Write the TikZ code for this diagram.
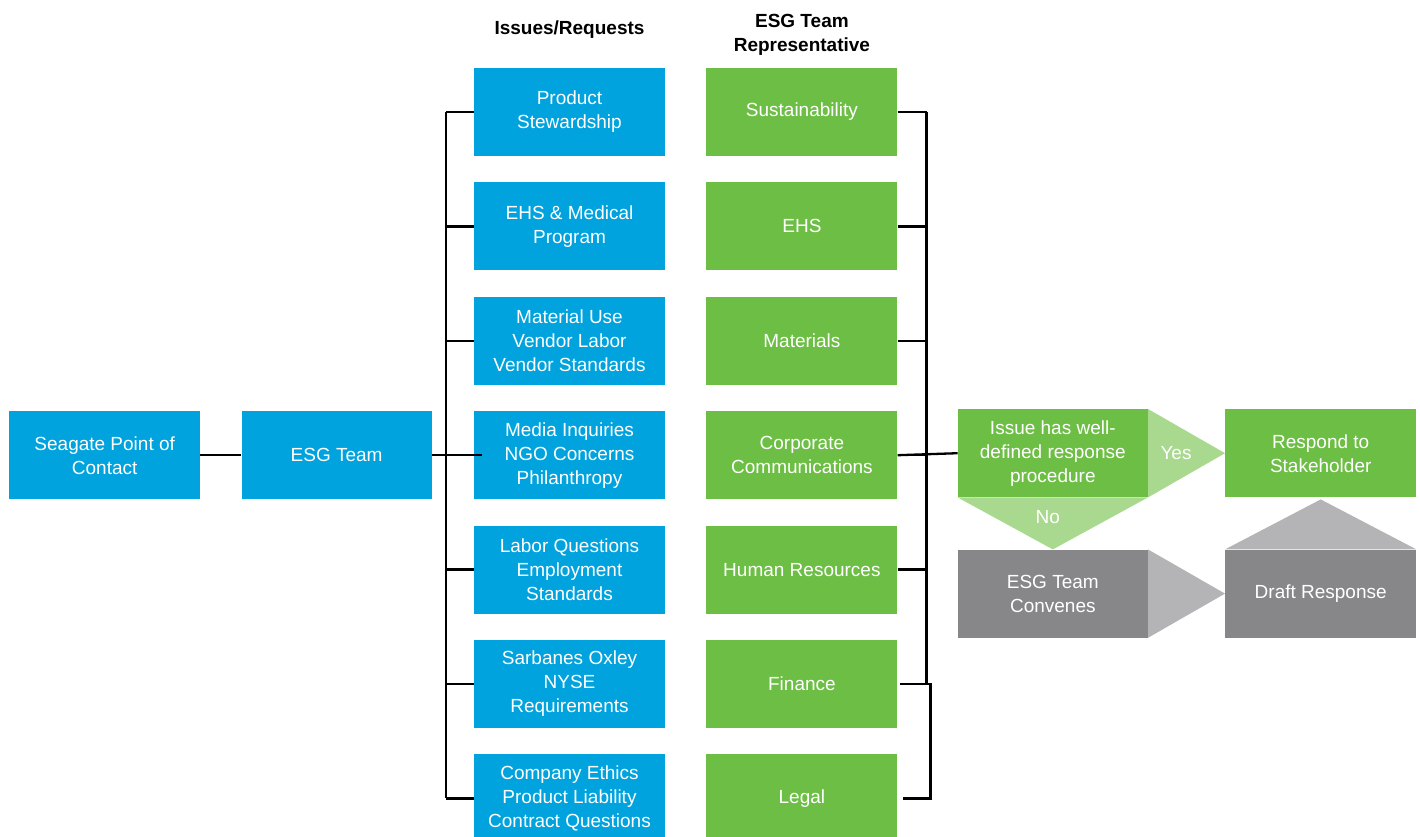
\documentclass[tikz,border=0pt]{standalone}
\usepackage{fontspec}
\setmainfont{Liberation Sans}
\usetikzlibrary{positioning,calc}
\definecolor{SgBlue}{HTML}{00A3DD}
\definecolor{SgGreen}{HTML}{6DBE45}
\definecolor{SgLightGreen}{HTML}{A9D88F}
\definecolor{SgGray}{HTML}{87878A}
\definecolor{SgLightGray}{HTML}{B4B4B6}

\begin{document}
\begin{tikzpicture}[x=1pt,y=1pt,font=\fontsize{19}{24}\selectfont,node distance=26pt and 41pt,
  box/.style={minimum width=191pt,minimum height=88pt,align=center,text=white,inner sep=2pt},
  issue/.style={box,fill=SgBlue},
  rep/.style={box,fill=SgGreen},
  grey/.style={box,fill=SgGray},
  head/.style={font=\fontsize{19}{24}\selectfont\bfseries,align=center},
  link/.style={line width=2.3pt}]
  \useasboundingbox (0,0) rectangle (1420,-836);
  % issues / requests column
  \node[issue] (i1) at (569.5,-112) {Product\\Stewardship};
  \node[issue,below=of i1] (i2) {EHS \& Medical\\Program};
  \node[issue,below=of i2] (i3) {Material Use\\Vendor Labor\\Vendor Standards};
  \node[issue,below=of i3] (i4) {Media Inquiries\\NGO Concerns\\Philanthropy};
  \node[issue,below=of i4] (i5) {Labor Questions\\Employment\\Standards};
  \node[issue,below=of i5] (i6) {Sarbanes Oxley\\NYSE\\Requirements};
  \node[issue,below=of i6] (i7) {Company Ethics\\Product Liability\\Contract Questions};
  % representatives column
  \node[rep,right=of i1] (r1) {Sustainability};
  \node[rep,right=of i2] (r2) {EHS};
  \node[rep,right=of i3] (r3) {Materials};
  \node[rep,right=of i4] (r4) {Corporate\\Communications};
  \node[rep,right=of i5] (r5) {Human Resources};
  \node[rep,right=of i6] (r6) {Finance};
  \node[rep,right=of i7] (r7) {Legal};
  \node[head] (hi) at ($(i1.north)+(0,38)$) {Issues/Requests};
  \node[head] (hr) at ($(r1.north)+(0,33)$) {ESG Team\\Representative};
  % contact chain
  \node[issue,left=42pt of i4,minimum width=190pt] (esg) {ESG Team};
  \node[issue,left=41pt of esg] (poc) {Seagate Point of\\Contact};
  % response procedure
  \node[rep,right=60pt of r4,yshift=2pt,minimum width=190pt] (dec) {Issue has well-\\defined response\\procedure};
  \node[rep,right=77pt of dec] (resp) {Respond to\\Stakeholder};
  \node[grey,below=52pt of dec,minimum width=190pt] (conv) {ESG Team\\Convenes};
  \node[grey,below=52pt of resp] (draft) {Draft Response};
  \fill[SgLightGreen] (dec.north east) -- (resp.west) -- (dec.south east) -- cycle;
  \fill[SgLightGreen] (dec.south west) -- (conv.north) -- (dec.south east) -- cycle;
  \fill[SgLightGray] (conv.north east) -- (draft.west) -- (conv.south east) -- cycle;
  \fill[SgLightGray] (draft.north west) -- ($(resp.south)+(0,-2)$) -- (draft.north east) -- cycle;
  \node[text=white] (yes) at ($(dec.east)+(28,0)$) {Yes};
  \node[text=white] (no) at ($(dec.south)+(-5,-20)$) {No};
  % brackets
  \foreach \n in {1,...,7} \draw[link] (i\n.west) -- ++(-28,0);
  \draw[link] ($(i1.west)+(-28,0)$) -- ($(i7.west)+(-28,0)$);
  \draw[link] (poc) -- (esg);
  \draw[link] (esg.east) -- ($(i4.west)+(8,0)$);
  \foreach \n in {1,...,5} \draw[link] (r\n.east) -- ++(29,0);
  \draw[link] ($(r1.east)+(29,0)$) -- ($(r6.east)+(29,0)$);
  \draw[link] ($(r6.east)+(2,0)$) -- ++(31,0) |- ($(r7.east)+(5,0)$);
  \draw[link] (r4.east) -- (dec.west);
\end{tikzpicture}
\end{document}
